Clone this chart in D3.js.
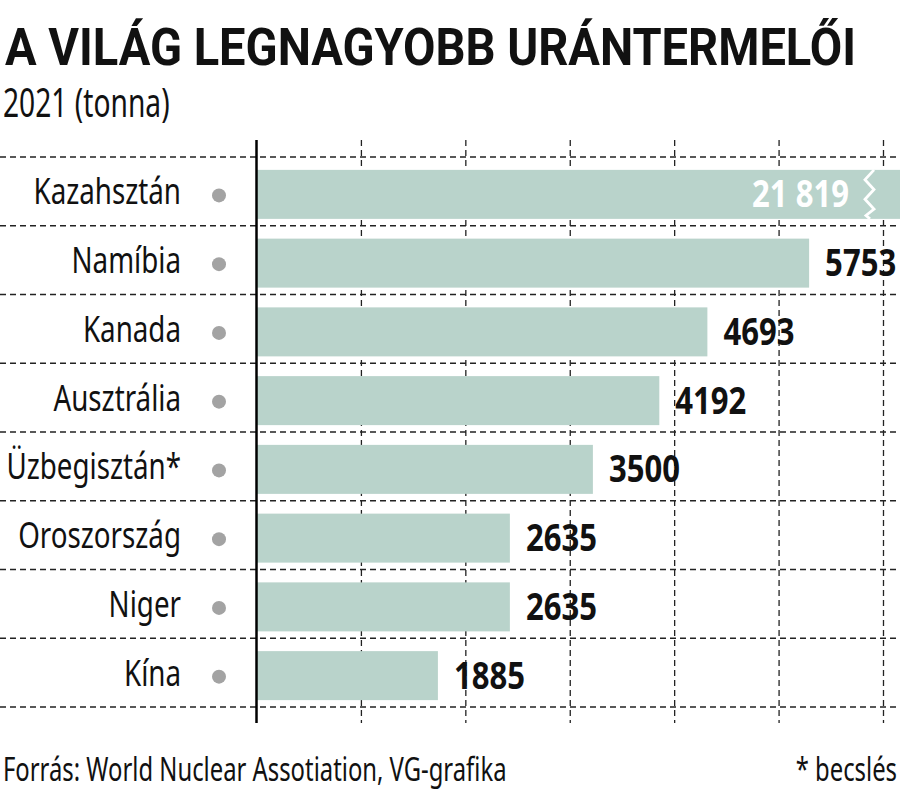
<!DOCTYPE html>
<html><head><meta charset="utf-8">
<script src="https://cdn.jsdelivr.net/npm/d3@7"></script>
<style>
html,body{margin:0;padding:0;background:#fff;}
svg{display:block;}
</style></head>
<body>
<script>
const titleText = "A VILÁG LEGNAGYOBB URÁNTERMELŐI";
const subtitleText = "2021 (tonna)";
const sourceText = "Forrás: World Nuclear Assotiation, VG-grafika";
const noteText = "* becslés";
const countries = ["Kazahsztán","Namíbia","Kanada","Ausztrália","Üzbegisztán*","Oroszország","Niger","Kína"];
const values = [21819, 5753, 4693, 4192, 3500, 2635, 2635, 1885];
const valueLabels = ["21 819","5753","4693","4192","3500","2635","2635","1885"];
const gridValues = [1088, 2176, 3264, 4352, 5440, 6528];

const W = 900, H = 805;
const svg = d3.select("body").append("svg").attr("width", W).attr("height", H);

const x = d3.scaleLinear().domain([0, 6700]).range([257, 900]).clamp(true);
const y = d3.scaleBand().domain(countries).range([157, 707]).paddingInner(0).paddingOuter(0);
const barH = 49, barShift = 3;
const barColor = "#b9d3cb";
const lineColor = "#222";

// place a horizontally condensed text
function ctext(g, px, py, f){
  return g.append("text").attr("x",0).attr("y",0)
    .attr("transform", `translate(${px},${py}) scale(${f},1)`);
}

// title & subtitle
ctext(svg, 5, 65, 0.905)
  .style("font-family","Roboto, 'Liberation Sans', sans-serif").style("font-weight",700)
  .style("font-size","52px").attr("fill","#111").text(titleText);
ctext(svg, 3, 117, 0.705)
  .style("font-family","'Noto Sans', 'Open Sans', sans-serif")
  .style("font-size","40px").attr("fill","#111").text(subtitleText);

// vertical dashed gridlines
svg.append("g").selectAll("line").data(gridValues).join("line")
  .attr("x1", d=>x(d)).attr("x2", d=>x(d)).attr("y1",140).attr("y2",723)
  .attr("stroke", lineColor).attr("stroke-width",1.3).attr("stroke-dasharray","6,4");

// horizontal dashed lines at band boundaries
const bounds = countries.map(c=>y(c)).concat([y(countries[countries.length-1]) + y.step()]);
svg.append("g").selectAll("line").data(bounds).join("line")
  .attr("x1",0).attr("x2",W).attr("y1",d=>d).attr("y2",d=>d)
  .attr("stroke", lineColor).attr("stroke-width",1.3).attr("stroke-dasharray","6,4");

// bars
const rows = countries.map((c,i)=>({c, v: values[i], lab: valueLabels[i]}));
const cy = d => y(d.c) + y.bandwidth()/2 + barShift;
svg.append("g").selectAll("rect").data(rows).join("rect")
  .attr("x", x(0)).attr("y", d=>cy(d)-barH/2)
  .attr("width", d=>x(d.v)-x(0)).attr("height", barH).attr("fill", barColor);

// axis line
svg.append("line").attr("x1",256.5).attr("x2",256.5).attr("y1",140).attr("y2",723)
  .attr("stroke","#000").attr("stroke-width",2.5);

// dots
svg.append("g").selectAll("circle").data(rows).join("circle")
  .attr("cx",219).attr("cy",d=>cy(d)+1).attr("r",7).attr("fill","#a3a3a3");

// category labels
const labG = svg.append("g");
rows.forEach(d=>{
  ctext(labG, 181, cy(d)+10, 0.75).attr("text-anchor","end")
    .style("font-family","'Noto Sans', 'Open Sans', sans-serif")
    .style("font-size","37px").attr("fill","#111").text(d.c);
});

// value labels
const inside = d => d.v > x.domain()[1];
const valG = svg.append("g");
rows.forEach(d=>{
  ctext(valG, inside(d) ? 849 : x(d.v)+16, cy(d)+13, 0.84)
    .attr("text-anchor", inside(d) ? "end" : "start")
    .style("font-family","'Noto Sans', 'Open Sans', sans-serif").style("font-weight",700)
    .style("font-size","37px")
    .attr("fill", inside(d) ? "#fff" : "#111").text(d.lab);
});

// break marker on clipped bar
rows.filter(inside).forEach(d=>{
  const top = cy(d)-barH/2, bx = 869;
  const pts = [[5,0],[-4,0.2],[5,0.4],[-4,0.6],[5,0.8],[-3,0.93],[1,1]].map(p=>[bx+p[0], top + p[1]*barH]);
  svg.append("path").attr("d", d3.line()(pts)).attr("fill","none")
    .attr("stroke","#fff").attr("stroke-width",2.8).attr("stroke-linejoin","miter");
});

// footer
ctext(svg, 3, 781, 0.745)
  .style("font-family","'Noto Sans', 'Open Sans', sans-serif")
  .style("font-size","32px").attr("fill","#111").text(sourceText);
ctext(svg, 897, 781, 0.745).attr("text-anchor","end")
  .style("font-family","'Noto Sans', 'Open Sans', sans-serif")
  .style("font-size","32px").attr("fill","#111").text(noteText);
</script>
</body></html>
